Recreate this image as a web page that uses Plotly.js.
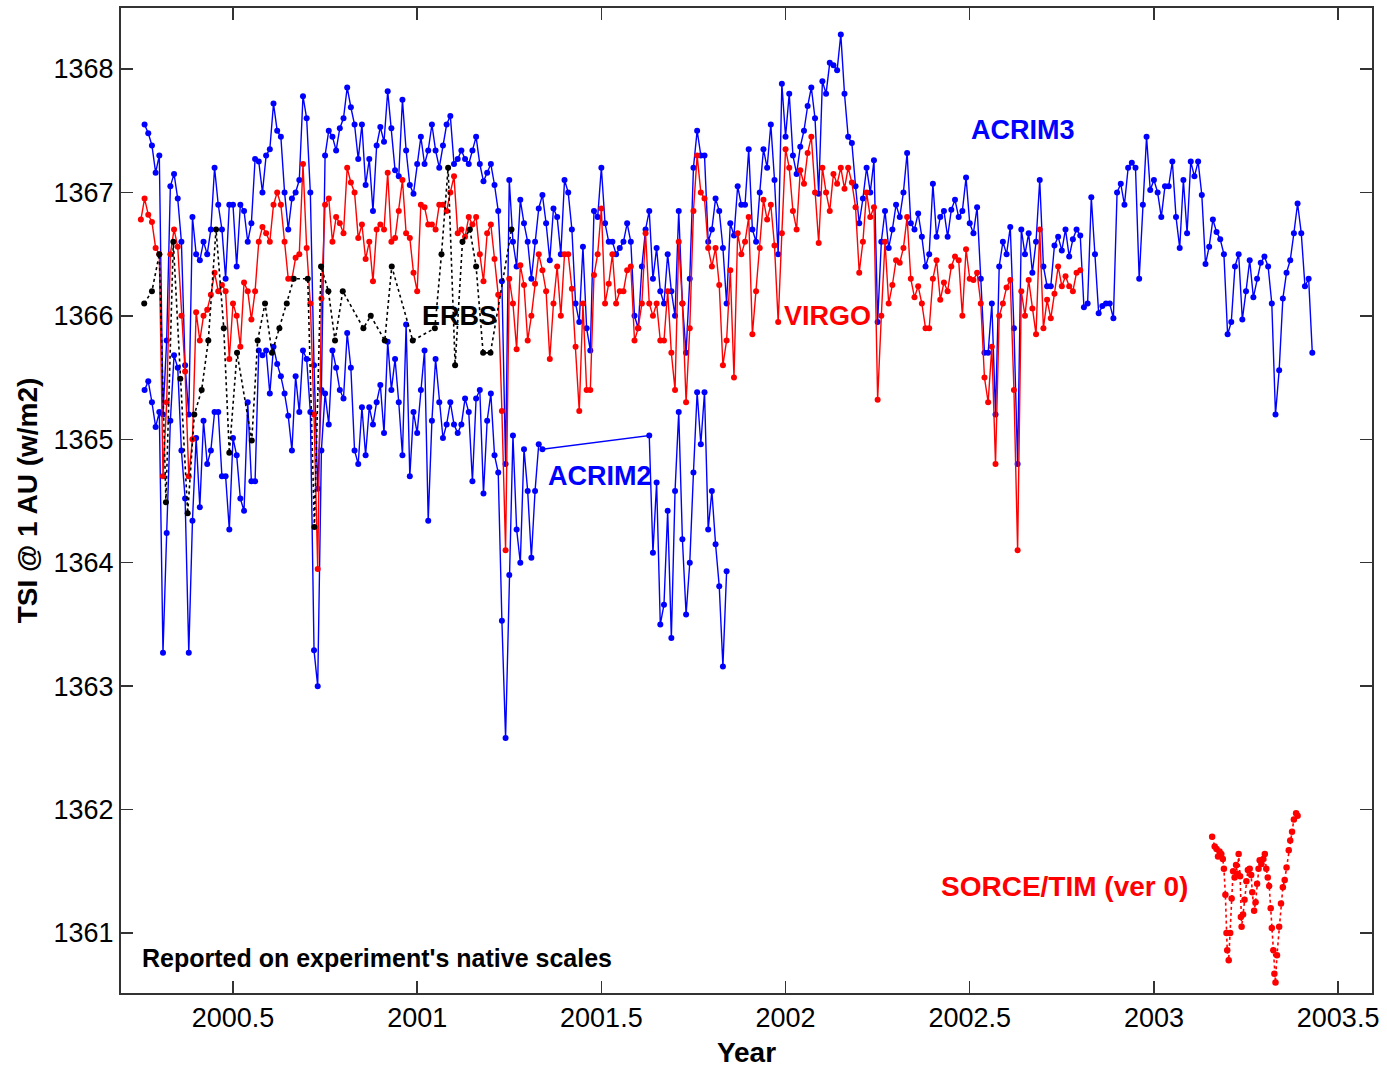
<!DOCTYPE html>
<html>
<head>
<meta charset="utf-8">
<script src="https://cdn.plot.ly/plotly-3.0.1.min.js"></script>
<style>
html,body{margin:0;padding:0;background:#fff;}
#chart{width:1387px;height:1068px;}
</style>
</head>
<body>
<div id="chart"></div>
<script>
// Sampling grid (years) for the near-daily records, step 0.01 yr
const sampleStep = 0.01;

// ACRIM3 (upper blue), 2000.26 .. 2003.43
const acrim3Start = 2000.26;
const acrim3Tsi = [
1367.55,1367.48,1367.38,1367.16,1367.30,1365.2,1365.8,1367.05,1367.15,1366.95,
1366.6,1365.6,1365.2,1366.8,1366.5,1366.45,1366.6,1366.5,1366.7,1367.2,
1366.9,1366.7,1366.3,1366.9,1366.9,1366.4,1366.9,1366.85,1366.6,1366.75,
1367.27,1367.25,1367.0,1367.3,1367.35,1367.72,1367.5,1367.45,1367.0,1366.7,
1366.95,1367.0,1367.1,1367.78,1367.6,1367.0,1365.6,1364.6,1365.4,1367.3,
1367.5,1367.45,1367.34,1367.52,1367.6,1367.85,1367.69,1367.55,1367.27,1367.55,
1367.06,1367.27,1366.85,1367.38,1367.53,1367.41,1367.82,1367.52,1367.18,1367.13,
1367.75,1367.34,1367.06,1366.99,1367.23,1367.45,1367.23,1367.34,1367.55,1367.34,
1367.2,1367.38,1367.55,1367.62,1367.23,1367.27,1367.34,1367.27,1367.23,1367.34,
1367.45,1367.23,1367.09,1367.16,1367.23,1367.06,1366.85,1366.28,1364.8,1367.1,
1366.6,1366.4,1366.94,1366.75,1366.6,1366.3,1366.6,1366.87,1366.98,1366.75,
1366.45,1366.87,1366.8,1366.5,1367.1,1367.0,1366.7,1366.1,1365.95,1366.56,
1365.9,1365.72,1366.85,1366.8,1367.2,1366.75,1366.6,1366.6,1366.5,1366.55,
1366.6,1366.75,1366.6,1366.0,1365.9,1366.4,1366.7,1366.85,1366.3,1366.55,
1366.2,1366.1,1366.5,1366.2,1366.0,1366.85,1366.1,1365.7,1366.3,1367.2,
1367.5,1367.3,1367.3,1366.6,1366.7,1366.95,1366.85,1366.55,1366.1,1366.75,
1366.65,1367.05,1366.9,1366.9,1367.35,1366.7,1366.6,1367.0,1367.35,1367.2,
1367.55,1367.1,1366.5,1367.88,1367.45,1367.8,1367.3,1367.15,1367.37,1367.5,
1367.7,1367.85,1367.6,1366.99,1367.9,1367.8,1368.05,1368.03,1367.99,1368.28,
1367.8,1367.45,1367.4,1367.05,1366.75,1366.95,1367.2,1367.0,1367.26,1365.95,
1366.6,1366.85,1366.55,1366.7,1366.9,1366.8,1367.0,1367.32,1366.75,1366.7,
1366.83,1366.64,1366.4,1366.5,1367.07,1366.64,1366.8,1366.85,1366.64,1366.86,
1366.94,1366.8,1366.85,1367.12,1366.75,1366.67,1366.88,1366.3,1365.7,1365.7,
1366.1,1365.2,1366.4,1366.6,1366.5,1366.72,1365.9,1364.8,1366.7,1366.5,
1366.67,1366.35,1366.6,1367.1,1366.4,1366.24,1366.24,1366.57,1366.64,1366.53,
1366.7,1366.48,1366.62,1366.7,1366.65,1366.07,1366.1,1366.96,1366.5,1366.02,
1366.08,1366.1,1366.1,1365.98,1367.0,1367.07,1366.9,1367.2,1367.24,1367.2,
1366.3,1366.9,1367.45,1367.02,1367.1,1367.0,1366.8,1367.05,1367.05,1367.25,
1366.8,1366.55,1367.1,1366.67,1367.25,1367.13,1367.25,1366.98,1366.42,1366.56,
1366.78,1366.68,1366.62,1366.5,1365.85,1365.95,1366.4,1366.5,1365.97,1366.2,
1366.45,1366.15,1366.3,1366.43,1366.48,1366.4,1366.1,1365.2,1365.56,1366.14,
1366.35,1366.45,1366.67,1366.91,1366.67,1366.24,1366.3,1365.7
];

// ACRIM2 (lower blue), two stretches: 2000.26 .. 2001.34 and 2001.63 .. 2001.84
const acrim2StartA = 2000.26;
const acrim2TsiA = [
1365.4,1365.47,1365.3,1365.1,1365.22,1363.27,1364.24,1365.15,1365.68,1365.58,
1364.91,1364.52,1363.27,1364.34,1365.01,1364.45,1365.15,1364.8,1364.91,1365.22,
1365.22,1364.7,1364.7,1364.27,1365.01,1364.87,1364.52,1364.42,1365.3,1364.66,
1364.66,1365.72,1365.68,1365.72,1365.37,1365.75,1365.61,1365.51,1365.37,1365.19,
1364.91,1365.51,1365.22,1365.72,1365.65,1365.22,1363.29,1363.0,1364.91,1365.37,
1365.12,1365.72,1365.58,1365.4,1365.33,1365.86,1365.58,1364.91,1364.8,1365.26,
1364.87,1365.26,1365.12,1365.3,1365.44,1365.05,1365.79,1365.4,1365.65,1365.3,
1364.87,1365.93,1364.7,1365.22,1365.05,1365.4,1365.72,1364.34,1365.15,1365.65,
1365.3,1365.01,1365.12,1365.3,1365.12,1365.05,1365.12,1365.33,1365.22,1364.66,
1365.33,1365.4,1364.56,1365.15,1365.37,1364.87,1364.73,1363.53,1362.58,1363.9,
1365.03,1364.27,1364.0,1364.92,1364.58,1364.04,1364.58,1364.96,1364.92
];
const acrim2StartB = 2001.63;
const acrim2TsiB = [
1365.03,1364.08,1364.65,1363.5,1363.66,1364.42,1363.39,1364.58,1365.22,1364.19,
1363.58,1364.0,1364.73,1365.38,1364.96,1365.38,1364.27,1364.58,1364.15,1363.81,
1363.16,1363.93
];

// VIRGO (red), 2000.25 .. 2002.80
const virgoStart = 2000.25;
const virgoTsi = [
1366.78,1366.95,1366.82,1366.76,1366.55,1366.5,1364.7,1365.3,1366.5,1366.7,
1366.56,1366.0,1365.55,1364.7,1365.0,1366.03,1365.8,1366.0,1366.05,1366.17,
1366.35,1366.2,1366.25,1366.2,1365.65,1366.1,1366.0,1365.75,1366.27,1366.2,
1365.97,1366.2,1366.6,1366.72,1366.67,1366.6,1366.9,1367.0,1366.9,1366.6,
1366.3,1366.3,1366.47,1366.5,1367.23,1366.55,1366.1,1365.2,1363.95,1366.14,
1366.9,1366.95,1366.6,1366.8,1366.75,1366.67,1367.2,1367.08,1367.0,1366.63,
1366.74,1366.46,1366.6,1366.28,1366.7,1366.74,1366.7,1367.16,1366.6,1366.63,
1366.85,1367.1,1366.67,1366.63,1366.35,1366.2,1366.9,1366.88,1366.74,1366.74,
1366.7,1366.9,1366.9,1366.85,1367.0,1367.13,1366.67,1366.7,1366.64,1366.8,
1366.74,1366.8,1366.5,1366.28,1366.67,1366.74,1366.46,1366.17,1365.23,1364.1,
1366.3,1366.1,1365.73,1366.41,1366.25,1365.8,1366.0,1366.26,1366.5,1366.37,
1366.2,1365.65,1366.1,1366.4,1366.0,1366.5,1366.5,1366.22,1365.75,1365.23,
1366.1,1365.4,1365.4,1366.33,1366.5,1366.87,1366.1,1366.26,1366.5,1366.1,
1366.2,1366.2,1366.37,1366.4,1365.8,1365.9,1366.1,1366.67,1366.1,1366.0,
1366.1,1365.8,1365.8,1366.2,1365.7,1365.4,1366.6,1366.1,1365.3,1365.9,
1366.85,1367.3,1367.0,1366.95,1366.55,1366.4,1366.55,1366.25,1365.6,1365.8,
1366.37,1365.5,1366.67,1366.5,1366.6,1366.8,1365.85,1366.2,1366.55,1366.94,
1366.78,1366.9,1366.57,1365.95,1366.67,1367.35,1367.2,1366.85,1366.7,1367.18,
1367.07,1367.32,1367.45,1367.0,1366.59,1367.2,1367.0,1366.85,1367.15,1367.07,
1367.2,1367.03,1367.2,1367.08,1366.88,1366.35,1366.6,1367.0,1366.8,1366.88,
1365.32,1366.0,1366.6,1366.1,1366.25,1366.45,1366.43,1366.55,1366.8,1366.3,
1366.15,1366.24,1366.1,1365.9,1365.9,1366.3,1366.45,1366.13,1366.27,1366.2,
1366.4,1366.48,1366.45,1366.0,1366.54,1366.3,1366.29,1366.35,1366.1,1365.5,
1365.3,1365.75,1364.8,1366.0,1366.1,1366.23,1366.29,1365.4,1364.1,1366.2,
1366.0,1366.29,1366.06,1365.85,1366.7,1365.9,1366.13,1365.98,1366.18,1366.4,
1366.24,1366.32,1366.24,1366.2,1366.35,1366.37
];

// ERBS (black, dotted), sparse
const erbsYear = [
2000.259,2000.280,2000.300,2000.318,2000.338,2000.357,2000.377,2000.395,2000.415,2000.433,
2000.454,2000.475,2000.490,2000.511,2000.551,2000.567,2000.587,2000.606,2000.626,2000.646,
2000.665,2000.703,2000.721,2000.739,2000.759,2000.777,2000.798,2000.854,2000.874,2000.912,
2000.931,2000.988,2001.048,2001.066,2001.084,2001.103,2001.123,2001.143,2001.160,2001.179,
2001.199,2001.256
];
const erbsTsi = [
1366.1,1366.2,1366.5,1364.49,1366.6,1365.49,1364.4,1365.2,1365.4,1365.8,
1366.7,1365.9,1364.89,1365.7,1364.99,1365.8,1366.1,1365.7,1365.9,1366.1,
1366.3,1366.3,1364.29,1366.4,1366.2,1365.8,1366.2,1365.9,1366.0,1365.8,
1366.4,1365.8,1365.9,1366.5,1367.2,1365.6,1366.6,1366.7,1366.4,1365.7,
1365.7,1366.7
];

// SORCE/TIM ver 0 (red, dotted)
const sorceYear = [
2003.158,2003.165,2003.170,2003.174,2003.178,2003.183,2003.187,2003.190,2003.194,2003.197,
2003.199,2003.203,2003.207,2003.211,2003.215,2003.219,2003.223,2003.227,2003.230,2003.234,
2003.236,2003.238,2003.242,2003.246,2003.251,2003.255,2003.260,2003.264,2003.267,2003.272,
2003.276,2003.280,2003.284,2003.287,2003.292,2003.297,2003.301,2003.305,2003.309,2003.313,
2003.317,2003.320,2003.324,2003.327,2003.330,2003.334,2003.340,2003.345,2003.350,2003.355,
2003.360,2003.366,2003.370,2003.375,2003.380,2003.386,2003.390
];
const sorceTsi = [
1361.78,1361.70,1361.68,1361.62,1361.66,1361.64,1361.60,1361.52,1361.31,1361.00,
1360.86,1360.78,1361.00,1361.28,1361.50,1361.45,1361.55,1361.48,1361.64,1361.46,
1361.13,1361.05,1361.15,1361.27,1361.42,1361.51,1361.52,1361.47,1361.33,1361.18,
1361.25,1361.40,1361.52,1361.59,1361.56,1361.60,1361.64,1361.52,1361.45,1361.38,
1361.20,1361.04,1360.86,1360.67,1360.60,1360.82,1361.05,1361.24,1361.37,1361.43,
1361.53,1361.67,1361.75,1361.82,1361.92,1361.97,1361.95
];

const xTickVals = [2000.5, 2001, 2001.5, 2002, 2002.5, 2003, 2003.5];
const xTickText = ['2000.5','2001','2001.5','2002','2002.5','2003','2003.5'];
const yTickVals = [1361,1362,1363,1364,1365,1366,1367,1368];
const yTickText = ['1361','1362','1363','1364','1365','1366','1367','1368'];

function grid(start, n) {
  const out = [];
  for (let i = 0; i < n; i++) out.push(+(start + i * sampleStep).toFixed(4));
  return out;
}

const BLUE = '#0000ff', RED = '#ff0000';
const FONT = 'Liberation Sans, Arial, sans-serif';

const traces = [
  {x: grid(acrim3Start, acrim3Tsi.length), y: acrim3Tsi, name: 'ACRIM3',
   mode: 'lines+markers', line: {color: BLUE, width: 1.4}, marker: {color: BLUE, size: 6}},
  {x: grid(acrim2StartA, acrim2TsiA.length).concat(grid(acrim2StartB, acrim2TsiB.length)),
   y: acrim2TsiA.concat(acrim2TsiB), name: 'ACRIM2',
   mode: 'lines+markers', line: {color: BLUE, width: 1.4}, marker: {color: BLUE, size: 6}},
  {x: grid(virgoStart, virgoTsi.length), y: virgoTsi, name: 'VIRGO',
   mode: 'lines+markers', line: {color: RED, width: 1.4}, marker: {color: RED, size: 6}},
  {x: erbsYear, y: erbsTsi, name: 'ERBS',
   mode: 'lines+markers', line: {color: '#000', width: 1.6, dash: 'dot'}, marker: {color: '#000', size: 6}},
  {x: sorceYear, y: sorceTsi, name: 'SORCE/TIM',
   mode: 'lines+markers', line: {color: RED, width: 1.6, dash: 'dot'}, marker: {color: RED, size: 6.5}}
];

const annFont = (c) => ({family: FONT, size: 27, color: c, weight: 'bold'});
const layout = {
  width: 1387, height: 1068,
  margin: {l: 121, r: 15, t: 8, b: 75},
  paper_bgcolor: '#fff', plot_bgcolor: '#fff',
  showlegend: false,
  font: {family: FONT, size: 27, color: '#000'},
  xaxis: {
    range: [2000.196, 2003.592], tickvals: xTickVals, ticktext: xTickText,
    ticks: 'inside', ticklen: 12, tickwidth: 1.5, tickcolor: '#333',
    showline: true, linecolor: '#333', linewidth: 2, mirror: 'ticks',
    showgrid: false, zeroline: false,
    tickfont: {family: FONT, size: 27, color: '#000'},
    title: {text: '<b>Year</b>', font: {family: FONT, size: 28, color: '#000'}, standoff: 11}
  },
  yaxis: {
    range: [1360.514, 1368.494], tickvals: yTickVals, ticktext: yTickText,
    ticks: 'inside', ticklen: 12, tickwidth: 1.5, tickcolor: '#333',
    showline: true, linecolor: '#333', linewidth: 2, mirror: 'ticks',
    showgrid: false, zeroline: false,
    tickfont: {family: FONT, size: 27, color: '#000'},
    title: {text: '<b>TSI @ 1 AU (w/m2)</b>', font: {family: FONT, size: 28, color: '#000'}, standoff: 8}
  },
  annotations: [
    {x: 2002.644, y: 1367.506, text: '<b>ACRIM3</b>', showarrow: false, font: annFont(BLUE)},
    {x: 2002.115, y: 1366.0, text: '<b>VIRGO</b>', showarrow: false, font: annFont(RED)},
    {x: 2001.116, y: 1366.0, text: '<b>ERBS</b>', showarrow: false, font: annFont('#000')},
    {x: 2001.496, y: 1364.70, text: '<b>ACRIM2</b>', showarrow: false, font: annFont(BLUE)},
    {x: 2002.758, y: 1361.38, text: '<b>SORCE/TIM (ver 0)</b>', showarrow: false,
     font: {family: FONT, size: 28, color: RED, weight: 'bold'}},
    {x: 2000.248, y: 1360.796, xanchor: 'left', text: "<b>Reported on experiment's native scales</b>",
     showarrow: false, font: {family: FONT, size: 25, color: '#000'}}
  ]
};

Plotly.newPlot('chart', traces, layout, {displayModeBar: false, staticPlot: true});
</script>
</body>
</html>
